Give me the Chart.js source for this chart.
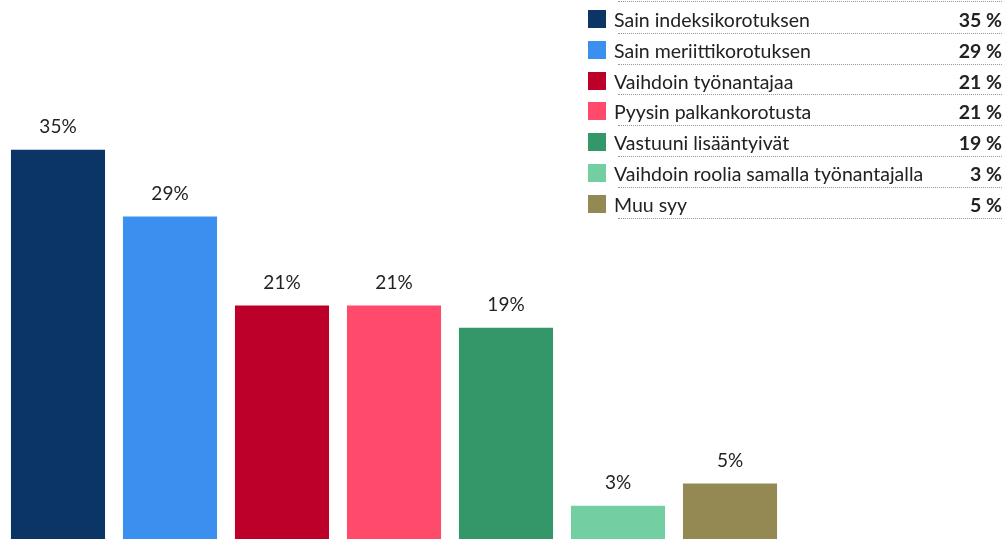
<!DOCTYPE html>
<html>
<head>
<meta charset="utf-8">
<script src="https://cdn.jsdelivr.net/npm/chart.js@4/dist/chart.umd.min.js"></script>
<style>
  body { margin: 0; background: #fff; }
  #wrap { position: relative; width: 1008px; height: 539px; }
  #legend { position: absolute; left: 588px; top: 3px; width: 414px; font-family: Lato, sans-serif; font-size: 19.5px; color: #222; }
  .row { position: relative; height: 30.8px; }
  .row .box { position: absolute; left: 0; top: 7px; width: 18px; height: 18px; }
  .row .lbl { position: absolute; left: 26px; top: 5px; }
  .row .val { position: absolute; right: 0; top: 5px; font-weight: bold; }
  .row .line { position: absolute; left: 30px; right: 0; bottom: 0; border-bottom: 1px dotted #999; }
  .top { position: absolute; left: 30px; right: 0; top: -2px; border-top: 1px dotted #999; }
</style>
</head>
<body>
<div id="wrap">
  <canvas id="barChart" width="1008" height="539"></canvas>
  <div id="legend"><div class="top"></div></div>
</div>
<script>
const categories = ['Sain indeksikorotuksen', 'Sain meriittikorotuksen', 'Vaihdoin työnantajaa', 'Pyysin palkankorotusta', 'Vastuuni lisääntyivät', 'Vaihdoin roolia samalla työnantajalla', 'Muu syy'];
const values = [35, 29, 21, 21, 19, 3, 5];
const colors = ['#0a3564', '#3a8fef', '#bd0029', '#ff4a6c', '#33976a', '#73cfa2', '#948953'];

// legend built as html from the same arrays
const legend = document.getElementById('legend');
categories.forEach((c, i) => {
    let row = document.createElement('div');
    row.className = 'row';
    row.innerHTML = `<div class="box" style="background:${colors[i]}"></div><div class="lbl">${c}</div><div class="val">${values[i]} %</div><div class="line"></div>`;
    legend.appendChild(row);
});

// value labels above the bars
const barLabels = {
    id: 'barLabels',
    afterDatasetsDraw(chart) {
        const ctx = chart.ctx;
        const meta = chart.getDatasetMeta(0);
        ctx.save();
        ctx.font = '19px Lato, sans-serif';
        ctx.fillStyle = '#222';
        ctx.textAlign = 'center';
        ctx.textBaseline = 'bottom';
        meta.data.forEach((bar, i) => {
            ctx.fillText(values[i] + '%', bar.x, bar.y - 13);
        });
        ctx.restore();
    }
};

new Chart(document.getElementById('barChart'), {
    type: 'bar',
    data: {
        labels: categories,
        datasets: [{ data: values, backgroundColor: colors, categoryPercentage: 1, barPercentage: 0.84 }]
    },
    options: {
        responsive: false,
        animation: false,
        layout: { padding: { left: 2, right: 222, top: 5, bottom: 0 } },
        plugins: { legend: { display: false }, tooltip: { enabled: false } },
        scales: {
            x: { display: false },
            y: { display: false, min: 0, max: 48 }
        }
    },
    plugins: [barLabels]
});
</script>
</body>
</html>
